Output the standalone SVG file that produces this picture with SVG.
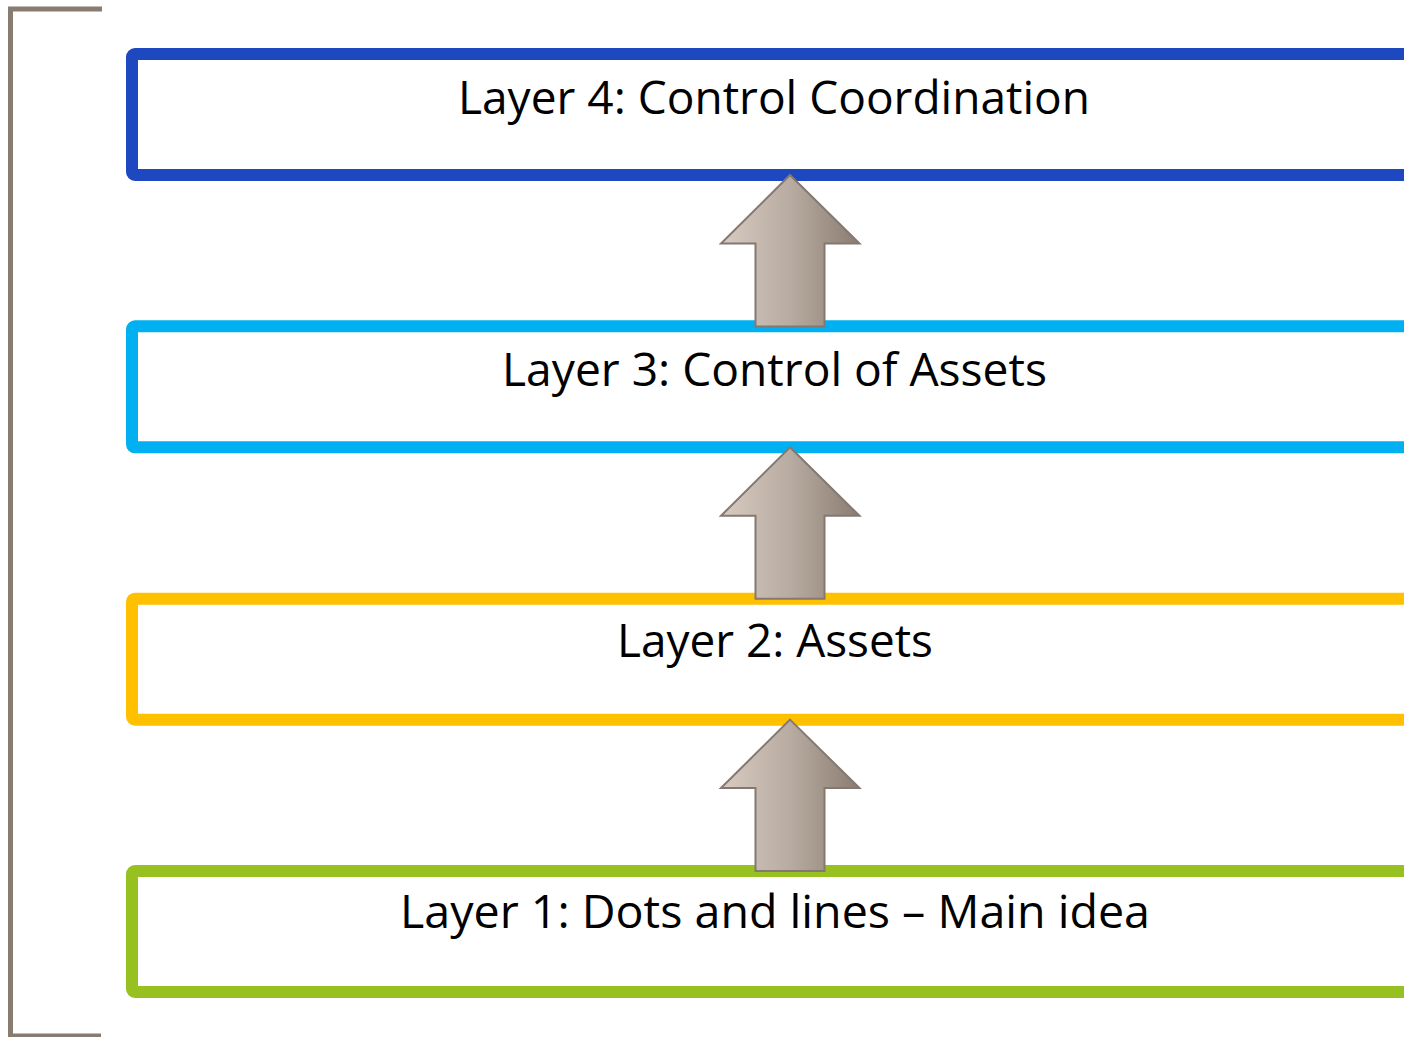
<svg xmlns="http://www.w3.org/2000/svg" width="1404" height="1037" viewBox="0 0 1404 1037">
<defs>
<linearGradient id="ag" x1="0" y1="0" x2="1" y2="0">
<stop offset="0" stop-color="#D7CBC2"/>
<stop offset="0.5" stop-color="#B8ABA1"/>
<stop offset="1" stop-color="#8A7C70"/>
</linearGradient>
<style>
.box{fill:#FFFFFF;stroke-width:12;stroke-linejoin:round}
.lbl{font-family:"Open Sans","Liberation Sans",sans-serif;font-size:46px;fill:#000000;text-anchor:middle}
.arrow{fill:url(#ag);stroke:#847870;stroke-width:2;stroke-linejoin:miter}
.bracket{fill:none;stroke:#887B70;stroke-width:5}
</style>
</defs>
<rect width="1404" height="1037" fill="#FFFFFF"/>
<path class="bracket" d="M102,9 H10.5 V1036 H101"/>
<g id="layer4">
<rect class="box" x="132" y="54" width="1300" height="121" rx="3" stroke="#1E48BF"/>
<text class="lbl" x="774" y="113.5" textLength="632" lengthAdjust="spacingAndGlyphs">Layer 4: Control Coordination</text>
</g>
<g id="layer3">
<rect class="box" x="132" y="326.3" width="1300" height="121" rx="3" stroke="#00B0F0"/>
<text class="lbl" x="774.5" y="385.5" textLength="545" lengthAdjust="spacingAndGlyphs">Layer 3: Control of Assets</text>
</g>
<g id="layer2">
<rect class="box" x="132" y="598.7" width="1300" height="121" rx="3" stroke="#FFC000"/>
<text class="lbl" x="775" y="657" textLength="316" lengthAdjust="spacingAndGlyphs">Layer 2: Assets</text>
</g>
<g id="layer1">
<rect class="box" x="132" y="871" width="1300" height="121" rx="3" stroke="#96C120"/>
<text class="lbl" x="775" y="928" textLength="750" lengthAdjust="spacingAndGlyphs">Layer 1: Dots and lines – Main idea</text>
</g>
<g id="connectors">
<path class="arrow" d="M790,175 L859.5,243.5 H824.5 V326.5 H755.5 V243.5 H721 Z"/>
<path class="arrow" d="M790,447.3 L859.5,515.8 H824.5 V598.8 H755.5 V515.8 H721 Z"/>
<path class="arrow" d="M790,719.6 L859.5,788.1 H824.5 V871 H755.5 V788.1 H721 Z"/>
</g>
</svg>
